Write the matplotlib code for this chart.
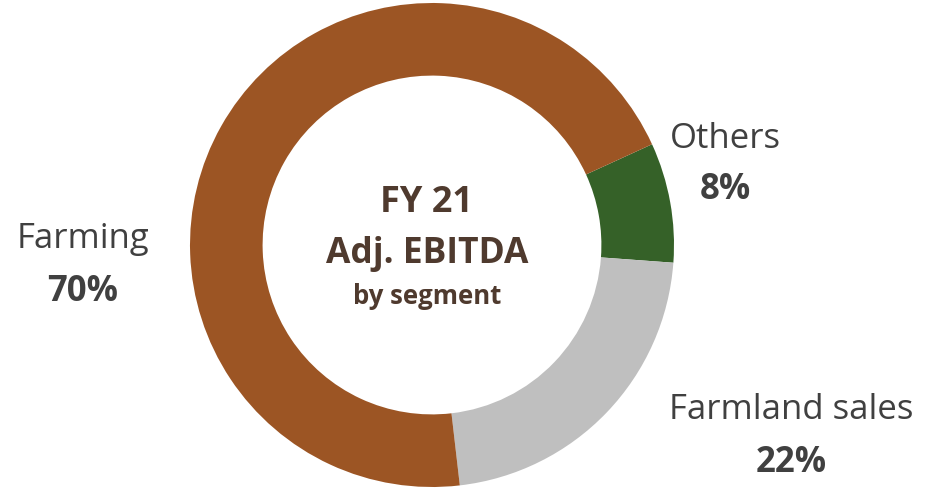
import matplotlib.pyplot as plt

labels = ["Others", "Farmland sales", "Farming"]
shares = [8, 22, 70]
colors = ["#356128", "#BFBFBF", "#9C5524"]

W, H = 925, 489
fig = plt.figure(figsize=(W / 100, H / 100), dpi=100)
ax = fig.add_axes([0, 0, 1, 1])

cx, cy, R = 432, H - 246, 242
ax.pie(shares, colors=colors, startangle=24.6, counterclock=False,
       center=(cx, cy), radius=R, frame=True,
       wedgeprops=dict(width=R * 0.3, linewidth=0))
ax.set_xlim(0, W)
ax.set_ylim(0, H)
ax.set_aspect("equal")
ax.axis("off")

font = "Open Sans"
brown_txt = "#4F3A2E"
grey_txt = "#404040"

# centre title (baselines in pixel rows from the top)
tx = 427
ax.text(tx, H - 212, "FY 21", ha="center", va="baseline", fontsize=26,
        fontweight="bold", color=brown_txt, family=font)
ax.text(tx, H - 263, "Adj. EBITDA", ha="center", va="baseline", fontsize=25.5,
        fontweight="bold", color=brown_txt, family=font)
ax.text(tx, H - 304, "by segment", ha="center", va="baseline", fontsize=18.5,
        fontweight="bold", color=brown_txt, family=font)

# segment labels: x centre, name baseline, value baseline
label_pos = {"Others": (725, 148, 199),
             "Farmland sales": (791, 419, 472),
             "Farming": (83, 248, 301)}
for name, val in zip(labels, shares):
    x, y1, y2 = label_pos[name]
    ax.text(x, H - y1, name, ha="center", va="baseline", fontsize=25,
            color=grey_txt, family=font)
    ax.text(x, H - y2, f"{val}%", ha="center", va="baseline", fontsize=25,
            fontweight="bold", color=grey_txt, family=font)

fig.savefig("out.png", dpi=100)
